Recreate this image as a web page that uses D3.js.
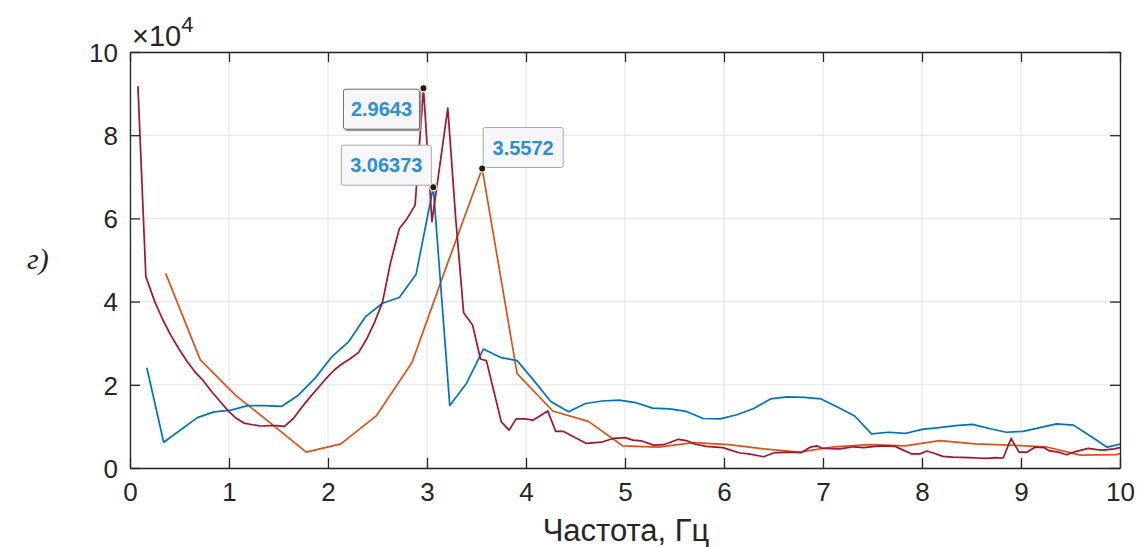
<!doctype html>
<html>
<head>
<meta charset="utf-8">
<script src="https://cdn.jsdelivr.net/npm/d3@7/dist/d3.min.js"></script>
<style>
body{margin:0;background:#fff;}
svg text{font-family:"Liberation Sans",Arial,Helvetica,sans-serif;fill:#262626;}
</style>
</head>
<body>
<div id="container"></div>
<script>
// tick values (x 10^4 on the y axis)
var xTicks = [0,1,2,3,4,5,6,7,8,9,10];
var yTicks = [0,2,4,6,8,10];

// crimson spectrum
var redX = [0.08,0.16,0.25,0.33,0.41,0.49,0.58,0.66,0.74,0.82,0.91,0.99,1.07,1.15,1.24,1.32,1.40,1.48,1.56,1.65,1.73,1.81,1.89,1.98,2.06,2.14,2.22,2.31,2.39,2.47,2.55,2.63,2.72,2.80,2.88,2.9643,3.05,3.13,3.21,3.29,3.37,3.46,3.54,3.60,3.75,3.83,3.90,3.99,4.07,4.22,4.30,4.38,4.61,4.76,4.88,5.00,5.08,5.17,5.29,5.39,5.54,5.62,5.71,5.82,5.99,6.16,6.25,6.40,6.50,6.63,6.78,6.87,6.94,7.00,7.17,7.31,7.41,7.58,7.73,7.81,7.89,7.98,8.05,8.13,8.21,8.31,8.48,8.57,8.65,8.74,8.82,8.90,8.98,9.06,9.14,9.23,9.29,9.38,9.46,9.53,9.68,9.77,9.83,9.94,10.0];
var redY = [9.18,4.60,4.00,3.57,3.20,2.88,2.55,2.30,2.10,1.85,1.60,1.38,1.20,1.08,1.04,1.01,1.02,1.02,1.00,1.19,1.44,1.68,1.90,2.15,2.35,2.50,2.62,2.78,3.10,3.50,3.98,4.92,5.75,6.00,6.32,9.13,5.92,7.28,8.65,6.00,3.73,3.44,2.62,2.58,1.11,0.91,1.18,1.18,1.15,1.37,0.88,0.88,0.59,0.62,0.71,0.73,0.67,0.65,0.55,0.56,0.69,0.66,0.57,0.52,0.49,0.36,0.34,0.27,0.36,0.38,0.37,0.50,0.53,0.47,0.46,0.51,0.49,0.53,0.52,0.43,0.34,0.34,0.41,0.35,0.28,0.26,0.25,0.24,0.23,0.25,0.24,0.71,0.38,0.38,0.50,0.49,0.41,0.38,0.32,0.38,0.47,0.44,0.43,0.46,0.49];

// blue spectrum
var blueX = [0.17,0.34,0.68,0.85,1.02,1.19,1.36,1.53,1.70,1.87,2.04,2.21,2.38,2.55,2.72,2.89,3.06373,3.23,3.40,3.57,3.74,3.91,4.08,4.25,4.43,4.60,4.77,4.94,5.11,5.28,5.45,5.62,5.79,5.96,6.13,6.30,6.47,6.64,6.81,6.98,7.15,7.32,7.49,7.66,7.83,8.00,8.17,8.34,8.51,8.68,8.85,9.02,9.19,9.36,9.53,9.70,9.87,10.04];
var blueY = [2.41,0.62,1.21,1.35,1.39,1.50,1.50,1.48,1.75,2.16,2.68,3.04,3.64,3.96,4.10,4.66,6.75,1.50,2.04,2.86,2.66,2.58,2.10,1.60,1.35,1.55,1.61,1.63,1.57,1.44,1.42,1.36,1.19,1.18,1.28,1.43,1.66,1.71,1.70,1.66,1.46,1.25,0.82,0.86,0.83,0.93,0.97,1.02,1.05,0.95,0.86,0.88,0.97,1.06,1.03,0.77,0.50,0.60];

// orange spectrum
var orangeX = [0.36,0.71,1.07,1.42,1.78,2.13,2.49,2.85,3.20,3.5572,3.91,4.27,4.63,4.98,5.34,5.69,6.05,6.40,6.76,7.11,7.47,7.83,8.18,8.54,8.89,9.25,9.60,9.96,10.31];
var orangeY = [4.68,2.60,1.74,1.08,0.38,0.58,1.26,2.54,4.87,7.20,2.27,1.37,1.12,0.53,0.50,0.61,0.56,0.46,0.38,0.51,0.56,0.53,0.66,0.58,0.55,0.51,0.31,0.32,0.55];

// data tips
var tipX = [2.9643, 3.06373, 3.5572];
var tipY = [9.13, 6.75, 7.20];
var tipLabel = ["2.9643", "3.06373", "3.5572"];

var W = 1137, H = 547;
var mLeft = 130, mRight = 1120, mTop = 52, mBottom = 468;

var svg = d3.select('#container').append('svg')
  .attr('width', W).attr('height', H);

var x = d3.scaleLinear().domain([0,10]).range([mLeft,mRight]);
var y = d3.scaleLinear().domain([0,10]).range([mBottom,mTop]);

// grid
var grid = svg.append('g');
grid.selectAll('.gx').data(xTicks).enter().append('line')
  .attr('x1', function(d){return x(d);}).attr('x2', function(d){return x(d);})
  .attr('y1', mTop).attr('y2', mBottom)
  .attr('stroke', '#e3e3e3').attr('stroke-width', 1);
grid.selectAll('.gy').data(yTicks).enter().append('line')
  .attr('y1', function(d){return y(d);}).attr('y2', function(d){return y(d);})
  .attr('x1', mLeft).attr('x2', mRight)
  .attr('stroke', '#e3e3e3').attr('stroke-width', 1);

svg.append('clipPath').attr('id','clip').append('rect')
  .attr('x', mLeft).attr('y', mTop).attr('width', mRight-mLeft).attr('height', mBottom-mTop);

var line = d3.line().x(function(d){return x(d[0]);}).y(function(d){return y(d[1]);});
function pairs(xs, ys){ return xs.map(function(v,i){return [v, ys[i]];}); }

var series = [
  {xs: orangeX, ys: orangeY, color: '#D95319'},
  {xs: blueX, ys: blueY, color: '#0072BD'},
  {xs: redX, ys: redY, color: '#A2142F'}
];
var lines = svg.append('g').attr('clip-path','url(#clip)');
series.forEach(function(s){
  lines.append('path').datum(pairs(s.xs, s.ys))
    .attr('d', line).attr('fill','none')
    .attr('stroke', s.color).attr('stroke-width', 1.7)
    .attr('stroke-linejoin','round');
});

// axes
var fontSize = 26;
var axB = svg.append('g').attr('transform','translate(0,'+mBottom+')')
  .call(d3.axisBottom(x).tickValues(xTicks).tickSizeInner(-10).tickSizeOuter(0).tickPadding(15).tickFormat(d3.format('d')));
var axT = svg.append('g').attr('transform','translate(0,'+mTop+')')
  .call(d3.axisTop(x).tickValues(xTicks).tickSizeInner(-10).tickSizeOuter(0).tickFormat(''));
var axL = svg.append('g').attr('transform','translate('+mLeft+',0)')
  .call(d3.axisLeft(y).tickValues(yTicks).tickSizeInner(-10).tickSizeOuter(0).tickPadding(12).tickFormat(d3.format('d')));
var axR = svg.append('g').attr('transform','translate('+mRight+',0)')
  .call(d3.axisRight(y).tickValues(yTicks).tickSizeInner(-10).tickSizeOuter(0).tickFormat(''));
[axB, axT, axL, axR].forEach(function(a){
  a.selectAll('path').attr('stroke','#262626').attr('stroke-width',1.3);
  a.selectAll('line').attr('stroke','#262626').attr('stroke-width',1.3);
  a.selectAll('text').style('font-size', fontSize+'px').attr('fill','#262626')
    .style('font-family','"Liberation Sans",Arial,sans-serif');
});
axB.selectAll('text').attr('dy','0.71em');
axL.selectAll('text').attr('dy','0.36em');

// exponent
var ex = svg.append('text').attr('x', 132).attr('y', 46).style('font-size','29px');
ex.append('tspan').text('\u00d710');
ex.append('tspan').attr('dy', -14).style('font-size','22px').text('4');

// x label
svg.append('text').attr('x', (mLeft+mRight)/2 + 1).attr('y', 541)
  .attr('text-anchor','middle').style('font-size','31px').text('Частота, Гц');

// panel letter
svg.append('text').attr('x', 27).attr('y', 269)
  .style('font-family','"Liberation Serif","Times New Roman",serif')
  .style('font-style','italic').style('font-size','30px').text('г)');

// data tips
var tipOff = [[-80, 1, 76, 40], [-92, -42, 90, 40], [1, -41, 80, 40]];
var tips = svg.append('g');
tipX.forEach(function(tx, i){
  var px = x(tx), py = y(tipY[i]);
  var o = tipOff[i];
  var g = tips.append('g');
  if (i === 0) {
    g.append('rect').attr('x', px+o[0]+2).attr('y', py+o[1]+2).attr('width', o[2]).attr('height', o[3])
      .attr('rx', 2).attr('fill', '#9a9a9a');
  }
  g.append('rect').attr('x', px+o[0]).attr('y', py+o[1]).attr('width', o[2]).attr('height', o[3])
    .attr('rx', 2).attr('fill', '#f7f7fb').attr('stroke', i === 0 ? '#6e6e6e' : '#a8a8a8').attr('stroke-width', 1);
  g.append('text').attr('x', px+o[0]+o[2]/2).attr('y', py+o[1]+o[3]/2)
    .attr('dy','0.36em').attr('text-anchor','middle')
    .style('font-size','20px').style('font-weight','bold').style('fill','#2b8fd6')
    .text(tipLabel[i]);
  g.append('circle').attr('cx', px).attr('cy', py).attr('r', 3.6)
    .attr('fill', '#1a1a1a').attr('stroke', '#f3efc8').attr('stroke-width', 1.4);
});
</script>
</body>
</html>
